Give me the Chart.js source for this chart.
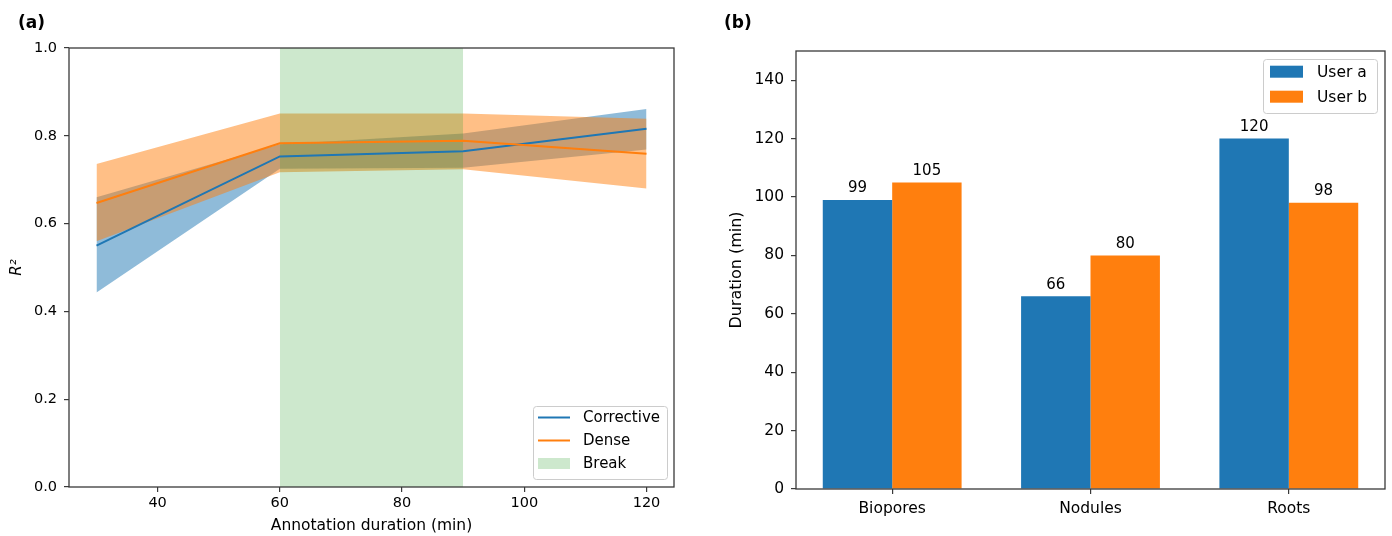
<!DOCTYPE html>
<html><head><meta charset="utf-8">
<script src="https://cdn.jsdelivr.net/npm/chart.js@4.4.0/dist/chart.umd.min.js"></script>
<style>
html,body{margin:0;padding:0;background:#fff;}
#wrap{position:relative;width:1392px;height:536px;}
.panel{position:absolute;top:0;width:696px;height:536px;}
#pa{left:0} #pb{left:696px}
</style></head><body>
<div id="wrap">
  <div class="panel" id="pa"><canvas id="chartA"></canvas></div>
  <div class="panel" id="pb"><canvas id="chartB"></canvas></div>
</div>
<script>
// (a) R2 vs annotation duration
const durations      = [30, 60, 90, 120];
const correctiveR2   = [0.550, 0.753, 0.765, 0.816];
const correctiveLow  = [0.443, 0.725, 0.727, 0.769];
const correctiveHigh = [0.660, 0.781, 0.805, 0.861];
const denseR2        = [0.647, 0.783, 0.789, 0.759];
const denseLow       = [0.560, 0.717, 0.724, 0.680];
const denseHigh      = [0.736, 0.851, 0.851, 0.839];
const breakSpan      = [60, 90];
const xTicksA = [40, 60, 80, 100, 120];
const yTicksA = [0, 0.2, 0.4, 0.6, 0.8, 1.0];

// (b) durations per class
const classes = ['Biopores', 'Nodules', 'Roots'];
const userA   = [99, 66, 120];
const userB   = [105, 80, 98];
const yTicksB = [0, 20, 40, 60, 80, 100, 120, 140];

const BLUE='#1f77b4', ORANGE='#ff7f0e';
const FONT="'DejaVu Sans', Verdana, sans-serif";
const SPINE='#3a3a3a';
Chart.defaults.font.family = FONT;
Chart.defaults.font.size = 14.5;
Chart.defaults.color = '#000';

const pts = (xs, ys) => xs.map((x,i)=>({x, y:ys[i]}));

const Frame = {
  id:'frame',
  afterDatasetsDraw(chart){
    const {ctx, chartArea:{left,top,right,bottom}} = chart;
    ctx.save(); ctx.strokeStyle=SPINE; ctx.lineWidth=1.3;
    ctx.strokeRect(left, top, right-left, bottom-top);
    ctx.restore();
  }
};
const PanelTag = {
  id:'panelTag',
  afterDraw(chart, _args, o){
    const {ctx} = chart;
    ctx.save(); ctx.fillStyle='#000'; ctx.font=`bold 17px ${FONT}`;
    ctx.textBaseline='alphabetic'; ctx.fillText(o.text, o.x, o.y);
    ctx.restore();
  }
};
const BoxLegend = {
  id:'boxLegend',
  afterDraw(chart, _args, o){
    const {ctx} = chart;
    const items = chart.data.datasets.filter(d=>d.legendKind);
    ctx.save();
    ctx.fillStyle='rgba(255,255,255,0.8)'; ctx.strokeStyle='#cccccc'; ctx.lineWidth=1;
    ctx.beginPath(); ctx.roundRect(o.x+0.5, o.y+0.5, o.w, o.h, 3); ctx.fill(); ctx.stroke();
    ctx.font=`${o.size}px ${FONT}`; ctx.textBaseline='middle';
    items.forEach((d,i)=>{
      const cy = o.y + o.first + i*o.step;
      if(d.legendKind==='line'){
        ctx.strokeStyle=d.borderColor; ctx.lineWidth=2;
        ctx.beginPath(); ctx.moveTo(o.x+o.pad, cy); ctx.lineTo(o.x+o.pad+o.sw, cy); ctx.stroke();
      } else {
        ctx.fillStyle=d.backgroundColor; ctx.fillRect(o.x+o.pad, cy-o.ph/2, o.sw, o.ph);
      }
      ctx.fillStyle='#000'; ctx.fillText(d.label, o.x+o.tx, cy+1);
    });
    ctx.restore();
  }
};
const BarValues = {
  id:'barValues',
  afterDatasetsDraw(chart){
    const {ctx} = chart;
    ctx.save(); ctx.fillStyle='#000'; ctx.font=`15px ${FONT}`;
    ctx.textAlign='center'; ctx.textBaseline='bottom';
    chart.data.datasets.forEach((ds,i)=>{
      chart.getDatasetMeta(i).data.forEach((bar,j)=>{
        ctx.fillText(String(ds.data[j].y), bar.x, bar.y-4);
      });
    });
    ctx.restore();
  }
};

const tickGrid = {display:true, drawOnChartArea:false, drawTicks:true, tickLength:5, color:SPINE, lineWidth:1.2};

new Chart(document.getElementById('chartA'), {
  type:'line',
  data:{datasets:[
    {label:'Corrective', legendKind:'line', data:pts(durations, correctiveR2), borderColor:BLUE, borderWidth:2, pointRadius:0, fill:false, order:2},
    {label:'Dense', legendKind:'line', data:pts(durations, denseR2), borderColor:ORANGE, borderWidth:2, pointRadius:0, fill:false, order:1},
    {label:'Break', legendKind:'patch', data:pts(breakSpan, [1, 1]), borderWidth:0, pointRadius:0, fill:'origin', backgroundColor:'rgba(44,160,44,0.24)', order:3},
    {data:pts(durations, correctiveHigh), borderWidth:0, pointRadius:0, fill:'+1', backgroundColor:'rgba(31,119,180,0.5)', order:5},
    {data:pts(durations, correctiveLow), borderWidth:0, pointRadius:0, fill:false, order:5},
    {data:pts(durations, denseHigh), borderWidth:0, pointRadius:0, fill:'+1', backgroundColor:'rgba(255,127,14,0.5)', order:4},
    {data:pts(durations, denseLow), borderWidth:0, pointRadius:0, fill:false, order:4}
  ]},
  options:{
    responsive:true, maintainAspectRatio:false, animation:false, devicePixelRatio:1,
    layout:{padding:{left:0, right:22, top:48, bottom:0}},
    plugins:{legend:{display:false}, tooltip:{enabled:false},
      panelTag:{text:'(a)', x:18, y:28},
      boxLegend:{x:533, y:406, w:134, h:73, first:11.5, step:23, pad:5, sw:32, ph:11, tx:50, size:15}},
    scales:{
      x:{type:'linear', min:25.5, max:124.5,
        afterBuildTicks(s){ s.ticks = xTicksA.map(v=>({value:v})); },
        afterFit(s){ s.height = 49; },
        grid:tickGrid, border:{display:false},
        ticks:{padding:3, maxRotation:0, autoSkip:false},
        title:{display:true, text:'Annotation duration (min)', font:{size:15.5}, padding:{top:0, bottom:1}}},
      y:{type:'linear', min:0, max:1,
        afterBuildTicks(s){ s.ticks = yTicksA.map(v=>({value:v})); },
        afterFit(s){ s.width = 69; },
        grid:tickGrid, border:{display:false},
        ticks:{padding:7, callback:v=>v.toFixed(1)},
        title:{display:true, text:'R²', font:{size:15, style:'italic'}, padding:{top:8, bottom:0}}}
    }
  },
  plugins:[Frame, PanelTag, BoxLegend]
});

new Chart(document.getElementById('chartB'), {
  type:'bar',
  data:{datasets:[
    {label:'User a', legendKind:'patch', data:pts([0,1,2], userA), backgroundColor:BLUE},
    {label:'User b', legendKind:'patch', data:pts([0,1,2], userB), backgroundColor:ORANGE}
  ]},
  options:{
    responsive:true, maintainAspectRatio:false, animation:false, devicePixelRatio:1,
    layout:{padding:{left:0, right:7, top:51, bottom:0}},
    datasets:{bar:{categoryPercentage:0.7, barPercentage:1.0}},
    plugins:{legend:{display:false}, tooltip:{enabled:false},
      panelTag:{text:'(b)', x:28, y:28},
      boxLegend:{x:567, y:59, w:114, h:54, first:12.7, step:25, pad:7, sw:33, ph:12, tx:54, size:15.5}},
    scales:{
      x:{type:'linear', min:-0.485, max:2.485, offset:false,
        afterBuildTicks(s){ s.ticks = classes.map((_,i)=>({value:i})); },
        afterFit(s){ s.height = 47; },
        grid:Object.assign({offset:false}, tickGrid), border:{display:false},
        ticks:{padding:6, maxRotation:0, autoSkip:false, font:{size:15.5}, callback:v=>classes[v]}},
      y:{type:'linear', min:0, max:150,
        afterBuildTicks(s){ s.ticks = yTicksB.map(v=>({value:v})); },
        afterFit(s){ s.width = 100; },
        grid:tickGrid, border:{display:false},
        ticks:{padding:7, font:{size:15.5}},
        title:{display:true, text:'Duration (min)', font:{size:16}, padding:{top:31, bottom:0}}}
    }
  },
  plugins:[Frame, PanelTag, BarValues, BoxLegend]
});
</script>
</body></html>
